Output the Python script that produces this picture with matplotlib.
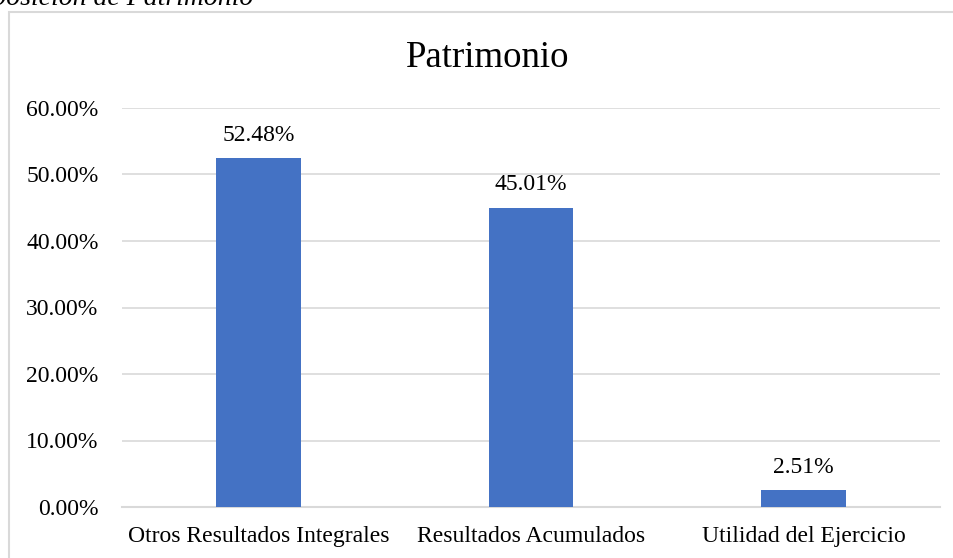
import matplotlib.pyplot as plt
from matplotlib.patches import Rectangle

# data
categorias = ['Otros Resultados Integrales', 'Resultados Acumulados', 'Utilidad del Ejercicio']
valores = [0.5248, 0.4501, 0.0251]
etiquetas = ['52.48%', '45.01%', '2.51%']
ticks_y = [0, 0.1, 0.2, 0.3, 0.4, 0.5, 0.6]

plt.rcParams['font.family'] = ['Liberation Serif', 'DejaVu Serif']

W, H = 954, 558
fig = plt.figure(figsize=(W / 100, H / 100), dpi=100)

# chart border (cut off at right and bottom)
fig.patches.append(Rectangle((9 / W, -0.1), 1.1, 1.1 - 12 / H,
                             transform=fig.transFigure, fill=False,
                             edgecolor='#d9d9d9', linewidth=1.5))

# caption above chart, mostly cut off at the top
fig.text(253 / W, 1 - 5 / H, 'Composición de Patrimonio', ha='right', va='baseline',
         fontsize=20, style='italic')

ax = fig.add_axes([122 / W, 1 - 507 / H, (940 - 122) / W, (507 - 108) / H])
x = range(len(categorias))
bars = ax.bar(x, valores, width=0.31, color='#4472C4', zorder=3)

for b, lab in zip(bars, etiquetas):
    ax.annotate(lab, (b.get_x() + b.get_width() / 2, b.get_height()),
                xytext=(0, 9), textcoords='offset points',
                ha='center', va='bottom', fontsize=17)

ax.set_xlim(-0.5, 2.5)
ax.set_ylim(0, 0.6)
ax.set_yticks(ticks_y)
ax.set_yticklabels([f'{t * 100:.2f}%' for t in ticks_y])
ax.set_xticks(list(x))
ax.set_xticklabels(categorias)
ax.tick_params(axis='y', length=0, pad=17, labelsize=17)
ax.tick_params(axis='x', length=0, pad=14, labelsize=17)
ax.grid(axis='y', color='#d9d9d9', linewidth=1.2, zorder=0)
for s in ['top', 'right', 'left']:
    ax.spines[s].set_visible(False)
ax.spines['bottom'].set_color('#d9d9d9')
ax.spines['bottom'].set_linewidth(1.5)

fig.text(488 / W, 1 - 67 / H, 'Patrimonio', ha='center', va='baseline', fontsize=26.5)

fig.savefig('out.png', dpi=100)
